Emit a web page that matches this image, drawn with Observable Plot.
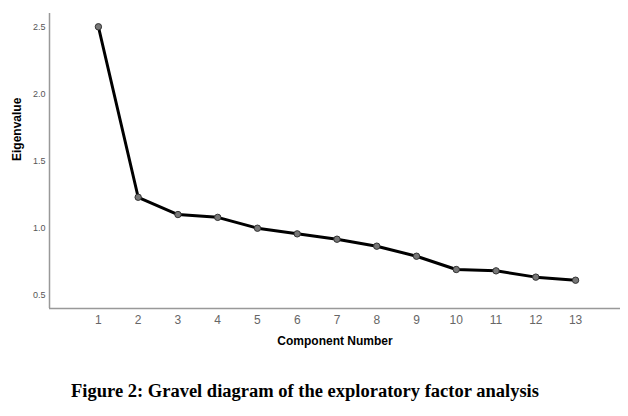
<!DOCTYPE html>
<html>
<head>
<meta charset="utf-8">
<script src="https://cdn.jsdelivr.net/npm/d3@7"></script>
<script src="https://cdn.jsdelivr.net/npm/@observablehq/plot@0.6"></script>
<style>
  body { margin: 0; background: #fff; }
  #caption { font-family: "Liberation Serif", "Times New Roman", serif; font-weight: bold; font-size: 18.5px; color: #000; text-align: center; width: 628px; margin-top: 21px; padding-right: 18px; box-sizing: border-box; }
</style>
</head>
<body>
<div id="chart"></div>
<div id="caption">Figure 2: Gravel diagram of the exploratory factor analysis</div>
<script>
const components = [1, 2, 3, 4, 5, 6, 7, 8, 9, 10, 11, 12, 13];
const eigenvalues = [2.505, 1.233, 1.104, 1.083, 1.002, 0.960, 0.920, 0.868, 0.793, 0.694, 0.684, 0.637, 0.614];
const xTicks = [1, 2, 3, 4, 5, 6, 7, 8, 9, 10, 11, 12, 13];
const yTicks = [0.5, 1.0, 1.5, 2.0, 2.5];
const xDomain = [-0.23, 14.13];
const yDomain = [0.403, 2.604];

const data = components.map((c, i) => ({component: c, eigenvalue: eigenvalues[i]}));

const chart = Plot.plot({
  width: 628,
  height: 360,
  marginLeft: 49,
  marginRight: 8,
  marginTop: 13,
  marginBottom: 52,
  style: {fontFamily: "Liberation Sans, Arial, sans-serif", background: "#fff"},
  x: {domain: xDomain},
  y: {domain: yDomain},
  marks: [
    Plot.axisX({ticks: xTicks, tickSize: 0, tickPadding: 7, fontSize: 12, color: "#666", label: null}),
    Plot.axisY({ticks: yTicks, tickSize: 0, tickPadding: 4, fontSize: 9, color: "#555", tickFormat: d3.format(".1f"), label: null}),
    Plot.ruleX([xDomain[0]], {stroke: "#999", strokeWidth: 1.5}),
    Plot.ruleY([yDomain[0]], {stroke: "#999", strokeWidth: 1.5}),
    Plot.line(data, {x: "component", y: "eigenvalue", stroke: "#000", strokeWidth: 3}),
    Plot.dot(data, {x: "component", y: "eigenvalue", r: 3.2, fill: "#777", stroke: "#333", strokeWidth: 1}),
    Plot.text(["Component Number"], {frameAnchor: "bottom", dy: 36, fontWeight: "bold", fontSize: 12, fill: "#000"}),
    Plot.text(["Eigenvalue"], {frameAnchor: "left", dx: -32, rotate: -90, fontWeight: "bold", fontSize: 12, fill: "#000"})
  ]
});
document.getElementById("chart").append(chart);
</script>
</body>
</html>
